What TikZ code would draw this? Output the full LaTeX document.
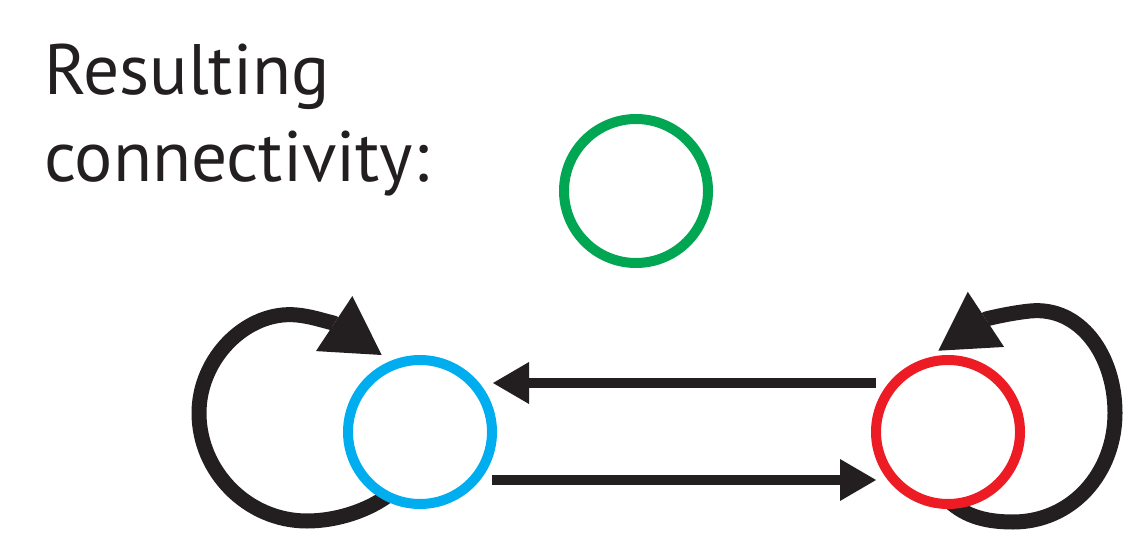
\documentclass[tikz,border=0pt]{standalone}
\usepackage{fontspec}
\setmainfont{PT Sans}
\usetikzlibrary{arrows.meta,backgrounds}
\definecolor{ablue}{HTML}{00AEEF}
\definecolor{ared}{HTML}{ED1C24}
\definecolor{agreen}{HTML}{00A651}
\definecolor{ablack}{HTML}{231F20}
\tikzset{
  ring/.style={circle,draw=#1,line width=10pt,fill=white,minimum size=144pt,inner sep=0pt},
  straightarr/.style={draw=ablack,line width=10.5pt,-{Triangle[length=36pt,width=42pt,line width=0pt]}},
  looparr/.style={draw=ablack,line width=15pt,-{Triangle[length=57pt,width=66pt,line width=0pt]}},
  txt/.style={text=ablack,inner sep=0pt,anchor=base west,font=\fontsize{71.4}{86}\selectfont}
}
\begin{document}
\begin{tikzpicture}[x=1pt,y=-1pt]
\useasboundingbox (0,0) rectangle (1126,540);
\node[txt] (t1) at (44,95) {Resulting};
\node[txt] (t2) at (44,182) {connectivity:};
\node[ring=agreen] (g) at (636,191) {};
\node[ring=ablue] (b) at (420,432) {};
\node[ring=ared] (r) at (948,432) {};
\begin{scope}[on background layer]
\draw[looparr] ([shift={(-25,58)}]b.center)
  .. controls ([shift={(-48,78)}]b.center) and ([shift={(-83,89)}]b.center) .. ([shift={(-113,89)}]b.center)
  .. controls ([shift={(-173,89)}]b.center) and ([shift={(-221,39)}]b.center) .. ([shift={(-221,-19)}]b.center)
  .. controls ([shift={(-221,-74)}]b.center) and ([shift={(-173,-122)}]b.center) .. ([shift={(-123,-117)}]b.center)
  .. controls ([shift={(-109,-115.6)}]b.center) and ([shift={(-98.6,-111.9)}]b.center) .. ([shift={(-86.7,-109)}]b.center)
  -- ([shift={(-38.3,-77)}]b.center);
\draw[looparr] ([shift={(-3,65)}]r.center)
  .. controls ([shift={(14,83)}]r.center) and ([shift={(35,90)}]r.center) .. ([shift={(65,90)}]r.center)
  .. controls ([shift={(124,90)}]r.center) and ([shift={(167,41)}]r.center) .. ([shift={(167,-19)}]r.center)
  .. controls ([shift={(167,-77)}]r.center) and ([shift={(132,-126)}]r.center) .. ([shift={(82,-121)}]r.center)
  .. controls ([shift={(68,-119.6)}]r.center) and ([shift={(50.4,-116.1)}]r.center) .. ([shift={(38.8,-113.2)}]r.center)
  -- ([shift={(-9.7,-81.3)}]r.center);
\end{scope}
\draw[straightarr] ([shift={(-72,-49)}]r.center) -- ([shift={(73,-49)}]b.center);
\draw[straightarr] ([shift={(72,48)}]b.center) -- ([shift={(-72,48)}]r.center);
\end{tikzpicture}
\end{document}
